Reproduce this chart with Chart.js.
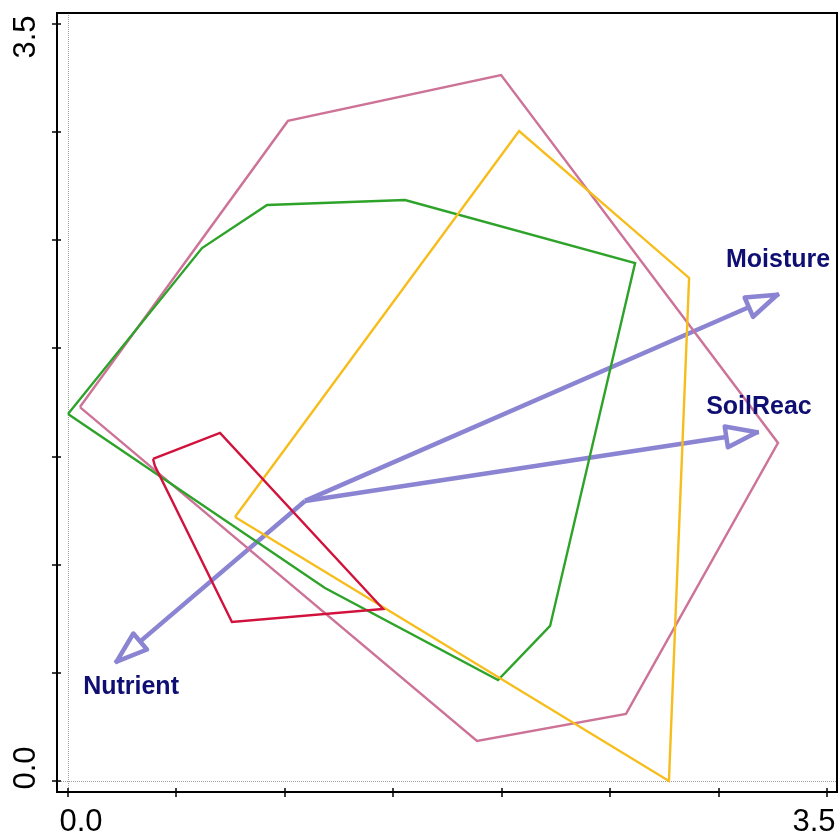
<!DOCTYPE html>
<html>
<head>
<meta charset="utf-8">
<script src="https://cdn.jsdelivr.net/npm/chart.js@4.4.1/dist/chart.umd.min.js"></script>
<style>
  html, body { margin: 0; padding: 0; background: #fff; }
  canvas { display: block; }
</style>
</head>
<body>
<canvas id="c" width="838" height="836"></canvas>
<script>
// Convex hulls of the four site groups in ordination space
const hullPinkX = [0.055, 1.014, 1.997, 3.274, 2.573, 1.886];
const hullPinkY = [1.729, 3.052, 3.264, 1.563, 0.310, 0.185];
const hullGreenX = [0.000, 0.618, 0.918, 1.554, 2.615, 2.223, 1.983, 1.185];
const hullGreenY = [1.697, 2.464, 2.663, 2.686, 2.395, 0.717, 0.467, 0.892];
const hullYellowX = [0.770, 2.080, 2.864, 2.771];
const hullYellowY = [1.221, 3.005, 2.326, 0.000];
const hullRedX = [0.392, 0.701, 1.453, 0.756, 0.401];
const hullRedY = [1.489, 1.609, 0.795, 0.735, 1.456];

// Environmental vectors fitted from a common origin
const vectorNames = ['Moisture', 'SoilReac', 'Nutrient'];
const vectorOriginX = 1.093;
const vectorOriginY = 1.295;
const vectorTipX = [3.279, 3.186, 0.217];
const vectorTipY = [2.252, 1.614, 0.546];

// Axis ticks and the two labelled ends
const axisTicks = [0, 0.5, 1, 1.5, 2, 2.5, 3, 3.5];
const labelledTicks = [0, 3.5];
const labelledTickText = ['0.0', '3.5'];

const COLORS = {
  pink: '#cc7397',
  green: '#2ea32a',
  yellow: '#f6bd1c',
  red: '#d1123c',
  vector: '#8a84d3',
  vectorText: '#0f0f73'
};

// closed ring of {x, y} points for a hull
function ring(xs, ys) {
  const pts = xs.map((v, i) => ({ x: v, y: ys[i] }));
  pts.push({ x: xs[0], y: ys[0] });
  return pts;
}

function hullDataset(xs, ys, color) {
  return {
    data: ring(xs, ys),
    borderColor: color,
    borderWidth: 2.4,
    pointRadius: 0,
    tension: 0,
    fill: false,
    order: 0
  };
}

const shaftDatasets = vectorNames.map((name, i) => ({
  label: name,
  data: [{ x: vectorOriginX, y: vectorOriginY }, { x: vectorTipX[i], y: vectorTipY[i] }],
  borderColor: COLORS.vector,
  borderWidth: 4.5,
  borderJoinStyle: 'round',
  pointRadius: 0,
  tension: 0,
  fill: false,
  order: 1
}));

// label placement relative to each arrow tip, in pixels
const vectorLabelOffset = [[-1, -34], [0, -25], [16, 24]];

const framePlugin = {
  id: 'frame',
  beforeDatasetsDraw(chart) {
    const { ctx, chartArea: a, scales: { x, y } } = chart;
    ctx.save();
    ctx.strokeStyle = '#a0a0a0';
    ctx.lineWidth = 1;
    ctx.setLineDash([1, 1]);
    const x0 = Math.round(x.getPixelForValue(0)) + 0.5;
    const y0 = Math.round(y.getPixelForValue(0)) + 0.5;
    ctx.beginPath();
    ctx.moveTo(x0, a.top);
    ctx.lineTo(x0, a.bottom);
    ctx.moveTo(a.left, y0);
    ctx.lineTo(a.right, y0);
    ctx.stroke();
    ctx.restore();
  },
  afterDatasetsDraw(chart) {
    const { ctx, scales: { x, y } } = chart;
    ctx.save();
    // open arrow heads
    const headLen = 31, headHalf = 10.5;
    vectorNames.forEach((name, i) => {
      const ox = x.getPixelForValue(vectorOriginX), oy = y.getPixelForValue(vectorOriginY);
      let tx = x.getPixelForValue(vectorTipX[i]), ty = y.getPixelForValue(vectorTipY[i]);
      const len = Math.hypot(tx - ox, ty - oy);
      const ux = (tx - ox) / len, uy = (ty - oy) / len;
      const hx = tx - ux * 2, hy = ty - uy * 2;
      const bx = hx - ux * headLen, by = hy - uy * headLen;
      ctx.beginPath();
      ctx.moveTo(hx, hy);
      ctx.lineTo(bx - uy * headHalf, by + ux * headHalf);
      ctx.lineTo(bx + uy * headHalf, by - ux * headHalf);
      ctx.closePath();
      ctx.fillStyle = '#ffffff';
      ctx.fill();
      ctx.strokeStyle = COLORS.vector;
      ctx.lineWidth = 4.5;
      ctx.lineJoin = 'round';
      ctx.stroke();

      ctx.fillStyle = COLORS.vectorText;
      ctx.font = 'bold 25px "Liberation Sans", Arial, sans-serif';
      ctx.textAlign = 'center';
      ctx.textBaseline = 'middle';
      ctx.fillText(name, tx + vectorLabelOffset[i][0], ty + vectorLabelOffset[i][1]);
    });
    ctx.restore();
  },
  afterDraw(chart) {
    const { ctx, chartArea: a, scales: { x, y } } = chart;
    ctx.save();
    // plot box
    ctx.strokeStyle = '#000';
    ctx.lineWidth = 2;
    ctx.strokeRect(a.left, a.top, a.right - a.left, a.bottom - a.top);
    // tick marks on left and bottom, crossing the frame
    ctx.lineWidth = 1.5;
    ctx.beginPath();
    axisTicks.forEach(v => {
      const px = Math.round(x.getPixelForValue(v));
      ctx.moveTo(px, a.bottom - 4);
      ctx.lineTo(px, a.bottom + 5);
      const py = Math.round(y.getPixelForValue(v));
      ctx.moveTo(a.left - 5, py);
      ctx.lineTo(a.left + 4, py);
    });
    ctx.stroke();
    // end labels, nudged inwards
    ctx.fillStyle = '#000';
    ctx.font = '31px "Liberation Sans", Arial, sans-serif';
    ctx.textAlign = 'center';
    ctx.textBaseline = 'middle';
    labelledTicks.forEach((v, i) => {
      const shift = i === 0 ? 13 : -13;
      ctx.fillText(labelledTickText[i], x.getPixelForValue(v) + shift, a.bottom + 30);
      ctx.save();
      ctx.translate(26, y.getPixelForValue(v) - shift);
      ctx.rotate(-Math.PI / 2);
      ctx.fillText(labelledTickText[i], 0, 0);
      ctx.restore();
    });
    ctx.restore();
  }
};

new Chart(document.getElementById('c'), {
  type: 'line',
  data: {
    datasets: [
      hullDataset(hullRedX, hullRedY, COLORS.red),
      hullDataset(hullYellowX, hullYellowY, COLORS.yellow),
      hullDataset(hullGreenX, hullGreenY, COLORS.green),
      hullDataset(hullPinkX, hullPinkY, COLORS.pink),
      ...shaftDatasets
    ]
  },
  options: {
    responsive: false,
    animation: false,
    devicePixelRatio: 1,
    layout: { padding: { left: 57, top: 13, right: 1, bottom: 44 } },
    plugins: { legend: { display: false }, tooltip: { enabled: false } },
    scales: {
      x: { type: 'linear', min: -0.0507, max: 3.546, display: false },
      y: { type: 'linear', min: -0.0509, max: 3.551, display: false }
    }
  },
  plugins: [framePlugin]
});
</script>
</body>
</html>
